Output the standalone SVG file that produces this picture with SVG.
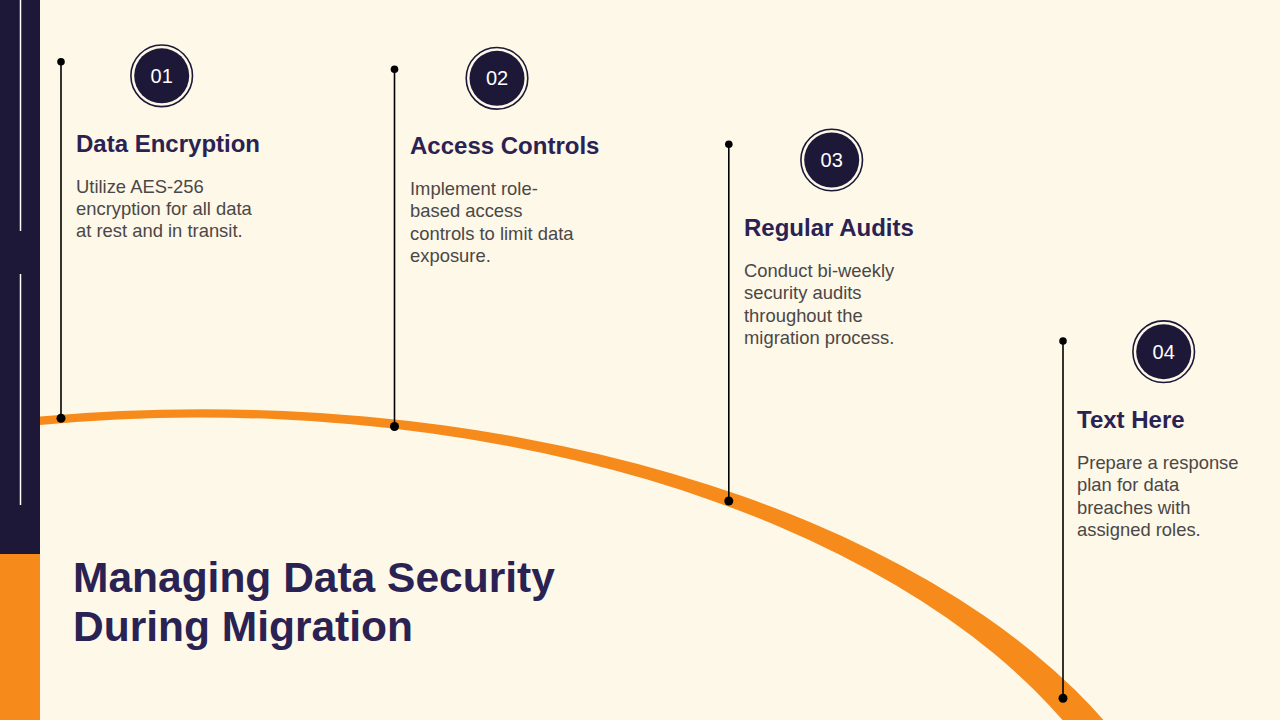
<svg xmlns="http://www.w3.org/2000/svg" width="1280" height="720" viewBox="0 0 1280 720">
  <defs>
    <style>
      .head { font-family: "Liberation Sans", Arial, sans-serif; font-weight: bold; font-size: 24px; fill: #2A2252; }
      .body { font-family: "Liberation Sans", Arial, sans-serif; font-size: 18.4px; fill: #4B4747; }
      .num { font-family: "Liberation Sans", Arial, sans-serif; font-size: 20px; fill: #FFFFFF; text-anchor: middle; }
      .title { font-family: "Liberation Sans", Arial, sans-serif; font-weight: bold; font-size: 42.5px; fill: #2A2252; }
      .ring { fill: none; stroke: #1E1838; stroke-width: 1.6; }
      .disc { fill: #1E1838; }
      .stem { stroke: #000000; stroke-width: 1.6; }
      .dot { fill: #000000; }
    </style>
  </defs>

  <rect x="0" y="0" width="1280" height="720" fill="#FDF8E7"/>

  <!-- orange arc band -->
  <path id="arc" d="M 40 416.5 A 1000 549 0 0 1 1112 730 L 1071 730 A 960 539 0 0 0 40 425 Z" fill="#F68B1C"/>

  <!-- left bar -->
  <g id="sidebar">
    <rect x="0" y="0" width="40" height="554" fill="#1E1838"/>
    <rect x="0" y="554" width="40" height="166" fill="#F68B1C"/>
    <line x1="20.5" y1="0" x2="20.5" y2="231" stroke="#FFFFFF" stroke-width="1.5"/>
    <line x1="20.5" y1="274" x2="20.5" y2="505" stroke="#FFFFFF" stroke-width="1.5"/>
  </g>

  <g id="connectors">
    <line class="stem" x1="61" y1="61.7" x2="61" y2="418.3"/>
    <circle class="dot" cx="61" cy="61.7" r="3.8"/>
    <circle class="dot" cx="61" cy="418.3" r="4.5"/>
    <line class="stem" x1="394.5" y1="69.3" x2="394.5" y2="426.5"/>
    <circle class="dot" cx="394.5" cy="69.3" r="3.8"/>
    <circle class="dot" cx="394.5" cy="426.5" r="4.5"/>
    <line class="stem" x1="728.8" y1="144.3" x2="728.8" y2="501"/>
    <circle class="dot" cx="728.8" cy="144.3" r="3.8"/>
    <circle class="dot" cx="728.8" cy="501" r="4.5"/>
    <line class="stem" x1="1063" y1="341" x2="1063" y2="698.3"/>
    <circle class="dot" cx="1063" cy="341" r="3.8"/>
    <circle class="dot" cx="1063" cy="698.3" r="4.5"/>
  </g>

  <g id="step1">
    <circle class="ring" cx="161.7" cy="75.8" r="30.8"/>
    <circle class="disc" cx="161.7" cy="75.8" r="27.5"/>
    <text class="num" x="161.7" y="82.8">01</text>
    <text class="head" x="76" y="152">Data Encryption</text>
    <text class="body" x="76" y="192.7">Utilize AES-256</text>
    <text class="body" x="76" y="215">encryption for all data</text>
    <text class="body" x="76" y="237.3">at rest and in transit.</text>
  </g>

  <g id="step2">
    <circle class="ring" cx="497" cy="78.3" r="30.8"/>
    <circle class="disc" cx="497" cy="78.3" r="27.5"/>
    <text class="num" x="497" y="85.3">02</text>
    <text class="head" x="410" y="154.3">Access Controls</text>
    <text class="body" x="410" y="195">Implement role-</text>
    <text class="body" x="410" y="217.3">based access</text>
    <text class="body" x="410" y="239.6">controls to limit data</text>
    <text class="body" x="410" y="261.9">exposure.</text>
  </g>

  <g id="step3">
    <circle class="ring" cx="831.7" cy="160" r="30.8"/>
    <circle class="disc" cx="831.7" cy="160" r="27.5"/>
    <text class="num" x="831.7" y="167">03</text>
    <text class="head" x="744" y="236">Regular Audits</text>
    <text class="body" x="744" y="277">Conduct bi-weekly</text>
    <text class="body" x="744" y="299.3">security audits</text>
    <text class="body" x="744" y="321.6">throughout the</text>
    <text class="body" x="744" y="343.9">migration process.</text>
  </g>

  <g id="step4">
    <circle class="ring" cx="1163.7" cy="351.7" r="30.8"/>
    <circle class="disc" cx="1163.7" cy="351.7" r="27.5"/>
    <text class="num" x="1163.7" y="358.7">04</text>
    <text class="head" x="1077" y="428.3">Text Here</text>
    <text class="body" x="1077" y="469">Prepare a response</text>
    <text class="body" x="1077" y="491.3">plan for data</text>
    <text class="body" x="1077" y="513.6">breaches with</text>
    <text class="body" x="1077" y="535.9">assigned roles.</text>
  </g>

  <g id="title">
    <text class="title" x="73" y="592">Managing Data Security</text>
    <text class="title" x="73" y="641">During Migration</text>
  </g>
</svg>
